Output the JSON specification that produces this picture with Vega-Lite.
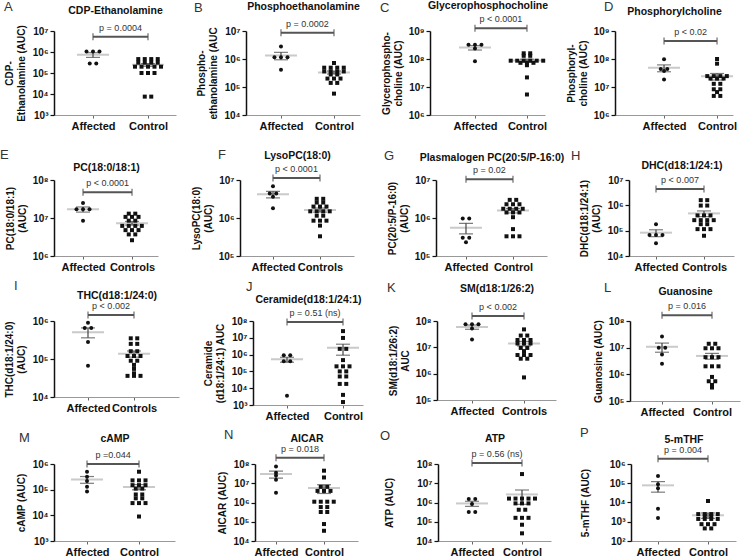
{
"$schema": "https://vega.github.io/schema/vega-lite/v6.json",
"padding": {"left": 0, "top": 0, "right": 3, "bottom": 0},
"config": {
 "font": "Liberation Sans",
 "view": {"stroke": null},
 "title": {"fontSize": 13, "fontWeight": "normal", "color": "#333", "frame": "group", "anchor": "start"},
 "axis": {"grid": false, "labelFontWeight": "bold", "labelColor": "#111", "titleFontWeight": "bold", "titleColor": "#111", "titleFontSize": 10, "labelFontSize": 10},
 "axisY": {"domainColor": "#111", "domainWidth": 1.5, "tickColor": "#111", "tickSize": 4, "tickWidth": 1.2, "titlePadding": 5, "labelPadding": 2},
 "axisX": {"domainColor": "#999", "domainWidth": 1, "tickColor": "#666", "tickSize": 3, "labelFontSize": 11, "labelPadding": 2},
 "axisTop": {"domain": false, "ticks": false, "labels": false, "titleFontSize": 10.5, "titleFontWeight": "bold", "titleColor": "#111"}
},
"datasets": {
"pv": [
{"panel":"A","p":"p = 0.0004"},{"panel":"B","p":"p = 0.0002"},{"panel":"C","p":"p < 0.0001"},{"panel":"D","p":"p < 0.02"},
{"panel":"E","p":"p < 0.0001"},{"panel":"F","p":"p < 0.0001"},{"panel":"G","p":"p = 0.02"},{"panel":"H","p":"p < 0.007"},
{"panel":"I","p":"p < 0.002"},{"panel":"J","p":"p = 0.51 (ns)"},{"panel":"K","p":"p < 0.002"},{"panel":"L","p":"p = 0.016"},
{"panel":"M","p":"p =0.044"},{"panel":"N","p":"p = 0.018"},{"panel":"O","p":"p = 0.56 (ns)"},{"panel":"P","p":"p = 0.004"}
],
"pts": [
{"panel":"A","group":"Affected","value":1050000},{"panel":"A","group":"Affected","value":1050000},{"panel":"A","group":"Affected","value":1050000},{"panel":"A","group":"Affected","value":280000},{"panel":"A","group":"Affected","value":280000},
{"panel":"A","group":"Control","value":460000},{"panel":"A","group":"Control","value":460000},{"panel":"A","group":"Control","value":460000},{"panel":"A","group":"Control","value":460000},
{"panel":"A","group":"Control","value":310000},{"panel":"A","group":"Control","value":310000},{"panel":"A","group":"Control","value":310000},{"panel":"A","group":"Control","value":310000},
{"panel":"A","group":"Control","value":200000},{"panel":"A","group":"Control","value":200000},{"panel":"A","group":"Control","value":200000},{"panel":"A","group":"Control","value":200000},{"panel":"A","group":"Control","value":200000},
{"panel":"A","group":"Control","value":100000},{"panel":"A","group":"Control","value":100000},{"panel":"A","group":"Control","value":100000},
{"panel":"A","group":"Control","value":7500},{"panel":"A","group":"Control","value":7500},
{"panel":"B","group":"Affected","value":2800000},{"panel":"B","group":"Affected","value":1150000},{"panel":"B","group":"Affected","value":1150000},{"panel":"B","group":"Affected","value":1150000},{"panel":"B","group":"Affected","value":410000},
{"panel":"B","group":"Control","value":720000},
{"panel":"B","group":"Control","value":490000},{"panel":"B","group":"Control","value":490000},{"panel":"B","group":"Control","value":490000},{"panel":"B","group":"Control","value":490000},
{"panel":"B","group":"Control","value":360000},{"panel":"B","group":"Control","value":360000},{"panel":"B","group":"Control","value":360000},{"panel":"B","group":"Control","value":360000},
{"panel":"B","group":"Control","value":280000},{"panel":"B","group":"Control","value":280000},
{"panel":"B","group":"Control","value":200000},{"panel":"B","group":"Control","value":200000},{"panel":"B","group":"Control","value":200000},
{"panel":"B","group":"Control","value":140000},{"panel":"B","group":"Control","value":140000},
{"panel":"B","group":"Control","value":58000},
{"panel":"C","group":"Affected","value":320000000},{"panel":"C","group":"Affected","value":320000000},{"panel":"C","group":"Affected","value":320000000},{"panel":"C","group":"Affected","value":235000000},{"panel":"C","group":"Affected","value":83000000},
{"panel":"C","group":"Control","value":160000000},{"panel":"C","group":"Control","value":160000000},
{"panel":"C","group":"Control","value":130000000},{"panel":"C","group":"Control","value":130000000},
{"panel":"C","group":"Control","value":87000000},{"panel":"C","group":"Control","value":87000000},{"panel":"C","group":"Control","value":87000000},{"panel":"C","group":"Control","value":87000000},{"panel":"C","group":"Control","value":87000000},{"panel":"C","group":"Control","value":87000000},
{"panel":"C","group":"Control","value":73000000},{"panel":"C","group":"Control","value":73000000},{"panel":"C","group":"Control","value":73000000},
{"panel":"C","group":"Control","value":60000000},{"panel":"C","group":"Control","value":22000000},{"panel":"C","group":"Control","value":5400000},
{"panel":"D","group":"Affected","value":98000000},{"panel":"D","group":"Affected","value":44000000},{"panel":"D","group":"Affected","value":44000000},{"panel":"D","group":"Affected","value":37000000},{"panel":"D","group":"Affected","value":18500000},
{"panel":"D","group":"Control","value":100000000},{"panel":"D","group":"Control","value":68000000},
{"panel":"D","group":"Control","value":24500000},{"panel":"D","group":"Control","value":24500000},{"panel":"D","group":"Control","value":24500000},{"panel":"D","group":"Control","value":24500000},
{"panel":"D","group":"Control","value":20000000},{"panel":"D","group":"Control","value":20000000},{"panel":"D","group":"Control","value":20000000},
{"panel":"D","group":"Control","value":13000000},{"panel":"D","group":"Control","value":13000000},
{"panel":"D","group":"Control","value":8300000},{"panel":"D","group":"Control","value":8300000},
{"panel":"D","group":"Control","value":6600000},
{"panel":"D","group":"Control","value":4800000},{"panel":"D","group":"Control","value":4800000},
{"panel":"E","group":"Affected","value":25000000},{"panel":"E","group":"Affected","value":17000000},{"panel":"E","group":"Affected","value":17000000},{"panel":"E","group":"Affected","value":17000000},{"panel":"E","group":"Affected","value":8500000},
{"panel":"E","group":"Control","value":13000000},{"panel":"E","group":"Control","value":13000000},
{"panel":"E","group":"Control","value":10700000},{"panel":"E","group":"Control","value":10700000},{"panel":"E","group":"Control","value":10700000},
{"panel":"E","group":"Control","value":8500000},{"panel":"E","group":"Control","value":8500000},
{"panel":"E","group":"Control","value":6200000},{"panel":"E","group":"Control","value":6200000},{"panel":"E","group":"Control","value":6200000},{"panel":"E","group":"Control","value":6200000},
{"panel":"E","group":"Control","value":4800000},{"panel":"E","group":"Control","value":4800000},{"panel":"E","group":"Control","value":4800000},
{"panel":"E","group":"Control","value":3700000},{"panel":"E","group":"Control","value":3700000},
{"panel":"E","group":"Control","value":2600000},
{"panel":"F","group":"Affected","value":6800000},{"panel":"F","group":"Affected","value":4400000},{"panel":"F","group":"Affected","value":4400000},{"panel":"F","group":"Affected","value":3600000},{"panel":"F","group":"Affected","value":1800000},
{"panel":"F","group":"Control","value":3200000},{"panel":"F","group":"Control","value":3200000},
{"panel":"F","group":"Control","value":2550000},{"panel":"F","group":"Control","value":2550000},
{"panel":"F","group":"Control","value":2000000},{"panel":"F","group":"Control","value":2000000},{"panel":"F","group":"Control","value":2000000},
{"panel":"F","group":"Control","value":1500000},{"panel":"F","group":"Control","value":1500000},{"panel":"F","group":"Control","value":1500000},{"panel":"F","group":"Control","value":1500000},
{"panel":"F","group":"Control","value":1150000},{"panel":"F","group":"Control","value":1150000},
{"panel":"F","group":"Control","value":850000},{"panel":"F","group":"Control","value":850000},{"panel":"F","group":"Control","value":850000},
{"panel":"F","group":"Control","value":630000},{"panel":"F","group":"Control","value":330000},
{"panel":"G","group":"Affected","value":970000},{"panel":"G","group":"Affected","value":970000},{"panel":"G","group":"Affected","value":300000},{"panel":"G","group":"Affected","value":300000},{"panel":"G","group":"Affected","value":230000},
{"panel":"G","group":"Control","value":3000000},{"panel":"G","group":"Control","value":3000000},
{"panel":"G","group":"Control","value":2300000},{"panel":"G","group":"Control","value":2300000},{"panel":"G","group":"Control","value":2300000},
{"panel":"G","group":"Control","value":1750000},{"panel":"G","group":"Control","value":1750000},{"panel":"G","group":"Control","value":1750000},{"panel":"G","group":"Control","value":1750000},
{"panel":"G","group":"Control","value":1400000},{"panel":"G","group":"Control","value":1400000},{"panel":"G","group":"Control","value":1400000},
{"panel":"G","group":"Control","value":1050000},{"panel":"G","group":"Control","value":510000},
{"panel":"G","group":"Control","value":330000},{"panel":"G","group":"Control","value":330000},{"panel":"G","group":"Control","value":330000},
{"panel":"H","group":"Affected","value":180000},{"panel":"H","group":"Affected","value":68000},{"panel":"H","group":"Affected","value":68000},{"panel":"H","group":"Affected","value":68000},{"panel":"H","group":"Affected","value":32000},
{"panel":"H","group":"Control","value":1600000},{"panel":"H","group":"Control","value":1600000},
{"panel":"H","group":"Control","value":980000},{"panel":"H","group":"Control","value":980000},
{"panel":"H","group":"Control","value":400000},{"panel":"H","group":"Control","value":400000},{"panel":"H","group":"Control","value":400000},
{"panel":"H","group":"Control","value":260000},{"panel":"H","group":"Control","value":260000},{"panel":"H","group":"Control","value":260000},{"panel":"H","group":"Control","value":260000},
{"panel":"H","group":"Control","value":180000},{"panel":"H","group":"Control","value":180000},
{"panel":"H","group":"Control","value":115000},{"panel":"H","group":"Control","value":115000},{"panel":"H","group":"Control","value":115000},
{"panel":"H","group":"Control","value":63000},
{"panel":"I","group":"Affected","value":900000},{"panel":"I","group":"Affected","value":650000},{"panel":"I","group":"Affected","value":650000},{"panel":"I","group":"Affected","value":280000},{"panel":"I","group":"Affected","value":66000},
{"panel":"I","group":"Control","value":350000},{"panel":"I","group":"Control","value":350000},
{"panel":"I","group":"Control","value":250000},{"panel":"I","group":"Control","value":250000},
{"panel":"I","group":"Control","value":160000},{"panel":"I","group":"Control","value":160000},
{"panel":"I","group":"Control","value":120000},{"panel":"I","group":"Control","value":120000},{"panel":"I","group":"Control","value":120000},
{"panel":"I","group":"Control","value":90000},{"panel":"I","group":"Control","value":90000},
{"panel":"I","group":"Control","value":70000},{"panel":"I","group":"Control","value":55000},{"panel":"I","group":"Control","value":42000},
{"panel":"I","group":"Control","value":36000},{"panel":"I","group":"Control","value":36000},{"panel":"I","group":"Control","value":36000},
{"panel":"J","group":"Affected","value":900000},{"panel":"J","group":"Affected","value":900000},{"panel":"J","group":"Affected","value":400000},{"panel":"J","group":"Affected","value":400000},{"panel":"J","group":"Affected","value":3500},
{"panel":"J","group":"Control","value":25000000},{"panel":"J","group":"Control","value":9800000},
{"panel":"J","group":"Control","value":2200000},{"panel":"J","group":"Control","value":2200000},
{"panel":"J","group":"Control","value":470000},
{"panel":"J","group":"Control","value":200000},{"panel":"J","group":"Control","value":200000},{"panel":"J","group":"Control","value":200000},
{"panel":"J","group":"Control","value":100000},{"panel":"J","group":"Control","value":100000},
{"panel":"J","group":"Control","value":50000},{"panel":"J","group":"Control","value":50000},
{"panel":"J","group":"Control","value":18000},{"panel":"J","group":"Control","value":18000},
{"panel":"J","group":"Control","value":4000},{"panel":"J","group":"Control","value":1500},
{"panel":"K","group":"Affected","value":75000000},{"panel":"K","group":"Affected","value":75000000},{"panel":"K","group":"Affected","value":75000000},{"panel":"K","group":"Affected","value":52000000},{"panel":"K","group":"Affected","value":20000000},
{"panel":"K","group":"Control","value":48000000},
{"panel":"K","group":"Control","value":28000000},{"panel":"K","group":"Control","value":28000000},
{"panel":"K","group":"Control","value":19000000},{"panel":"K","group":"Control","value":19000000},{"panel":"K","group":"Control","value":19000000},
{"panel":"K","group":"Control","value":14000000},{"panel":"K","group":"Control","value":14000000},{"panel":"K","group":"Control","value":14000000},
{"panel":"K","group":"Control","value":9500000},{"panel":"K","group":"Control","value":9500000},
{"panel":"K","group":"Control","value":7200000},
{"panel":"K","group":"Control","value":5100000},{"panel":"K","group":"Control","value":5100000},{"panel":"K","group":"Control","value":5100000},
{"panel":"K","group":"Control","value":3700000},{"panel":"K","group":"Control","value":3700000},
{"panel":"K","group":"Control","value":720000},
{"panel":"L","group":"Affected","value":26000000},{"panel":"L","group":"Affected","value":10000000},{"panel":"L","group":"Affected","value":10000000},{"panel":"L","group":"Affected","value":5500000},{"panel":"L","group":"Affected","value":2500000},
{"panel":"L","group":"Control","value":14000000},{"panel":"L","group":"Control","value":14000000},
{"panel":"L","group":"Control","value":9500000},{"panel":"L","group":"Control","value":9500000},{"panel":"L","group":"Control","value":9500000},
{"panel":"L","group":"Control","value":4400000},{"panel":"L","group":"Control","value":4400000},{"panel":"L","group":"Control","value":4400000},
{"panel":"L","group":"Control","value":2000000},{"panel":"L","group":"Control","value":2000000},{"panel":"L","group":"Control","value":2000000},
{"panel":"L","group":"Control","value":800000},
{"panel":"L","group":"Control","value":550000},{"panel":"L","group":"Control","value":550000},
{"panel":"L","group":"Control","value":400000},{"panel":"L","group":"Control","value":320000},
{"panel":"M","group":"Affected","value":500000},{"panel":"M","group":"Affected","value":320000},{"panel":"M","group":"Affected","value":220000},{"panel":"M","group":"Affected","value":130000},{"panel":"M","group":"Affected","value":85000},
{"panel":"M","group":"Control","value":500000},
{"panel":"M","group":"Control","value":230000},{"panel":"M","group":"Control","value":230000},{"panel":"M","group":"Control","value":230000},
{"panel":"M","group":"Control","value":150000},{"panel":"M","group":"Control","value":150000},{"panel":"M","group":"Control","value":150000},
{"panel":"M","group":"Control","value":110000},{"panel":"M","group":"Control","value":110000},
{"panel":"M","group":"Control","value":65000},{"panel":"M","group":"Control","value":65000},
{"panel":"M","group":"Control","value":46000},{"panel":"M","group":"Control","value":46000},
{"panel":"M","group":"Control","value":30000},{"panel":"M","group":"Control","value":30000},{"panel":"M","group":"Control","value":30000},
{"panel":"M","group":"Control","value":9000},
{"panel":"N","group":"Affected","value":75000000},{"panel":"N","group":"Affected","value":35000000},{"panel":"N","group":"Affected","value":25000000},{"panel":"N","group":"Affected","value":15000000},{"panel":"N","group":"Affected","value":3200000},
{"panel":"N","group":"Control","value":45000000},{"panel":"N","group":"Control","value":20000000},
{"panel":"N","group":"Control","value":6500000},{"panel":"N","group":"Control","value":6500000},
{"panel":"N","group":"Control","value":4000000},{"panel":"N","group":"Control","value":4000000},{"panel":"N","group":"Control","value":4000000},
{"panel":"N","group":"Control","value":1100000},{"panel":"N","group":"Control","value":1100000},{"panel":"N","group":"Control","value":1100000},{"panel":"N","group":"Control","value":1100000},
{"panel":"N","group":"Control","value":580000},{"panel":"N","group":"Control","value":580000},
{"panel":"N","group":"Control","value":320000},{"panel":"N","group":"Control","value":320000},
{"panel":"N","group":"Control","value":76000},{"panel":"N","group":"Control","value":34000},
{"panel":"O","group":"Affected","value":1500000},{"panel":"O","group":"Affected","value":1500000},{"panel":"O","group":"Affected","value":830000},{"panel":"O","group":"Affected","value":320000},{"panel":"O","group":"Affected","value":320000},
{"panel":"O","group":"Control","value":30000000},
{"panel":"O","group":"Control","value":1600000},{"panel":"O","group":"Control","value":1600000},{"panel":"O","group":"Control","value":1600000},{"panel":"O","group":"Control","value":1600000},{"panel":"O","group":"Control","value":1600000},
{"panel":"O","group":"Control","value":900000},{"panel":"O","group":"Control","value":900000},{"panel":"O","group":"Control","value":900000},
{"panel":"O","group":"Control","value":420000},{"panel":"O","group":"Control","value":420000},
{"panel":"O","group":"Control","value":160000},{"panel":"O","group":"Control","value":160000},{"panel":"O","group":"Control","value":160000},
{"panel":"O","group":"Control","value":70000},{"panel":"O","group":"Control","value":25000},
{"panel":"P","group":"Affected","value":240000},{"panel":"P","group":"Affected","value":89000},{"panel":"P","group":"Affected","value":55000},{"panel":"P","group":"Affected","value":4700},{"panel":"P","group":"Affected","value":1550},
{"panel":"P","group":"Control","value":12000},
{"panel":"P","group":"Control","value":2500},{"panel":"P","group":"Control","value":2500},{"panel":"P","group":"Control","value":2500},{"panel":"P","group":"Control","value":2500},
{"panel":"P","group":"Control","value":2000},{"panel":"P","group":"Control","value":2000},
{"panel":"P","group":"Control","value":1400},{"panel":"P","group":"Control","value":1400},{"panel":"P","group":"Control","value":1400},{"panel":"P","group":"Control","value":1400},
{"panel":"P","group":"Control","value":750},{"panel":"P","group":"Control","value":750},{"panel":"P","group":"Control","value":750},
{"panel":"P","group":"Control","value":450},{"panel":"P","group":"Control","value":450}
]
},
"spacing": 18,
"vconcat": [
{"spacing": 70, "bounds": "flush", "hconcat": [
{"width":122,"height":84,
 "title":{"text":"A","offset":-9,"dx":-50},
 "data":{"name":"pts"},
 "transform":[{"filter":"datum.panel === 'A'"},{"calculate":"datum.group === 'Affected' ? 1 : 2","as":"gi"}],
 "resolve":{"axis":{"x":"independent","y":"independent"}},
 "layer":[
  {"transform":[{"aggregate":[{"op":"mean","field":"value","as":"m"},{"op":"stderr","field":"value","as":"se"}],"groupby":["group","gi"]},{"calculate":"datum.m + datum.se","as":"hi"},{"calculate":"datum.m - datum.se","as":"lo"}],
   "encoding":{"x":{"field":"gi","type":"quantitative","scale":{"domain":[0.291,2.509],"nice":false,"zero":false},"axis":null}},
   "layer":[
    {"mark":{"type":"tick","orient":"horizontal","size":32,"thickness":2,"color":"#b3b3b3"},"encoding":{"y":{"field":"m","type":"quantitative","scale":{"type":"log","domain":[1000,10000000]},"axis":null}}},
    {"mark":{"type":"rule","color":"#444","strokeWidth":1.2},"encoding":{"y":{"field":"lo","type":"quantitative","scale":{"type":"log","domain":[1000,10000000]},"axis":null},"y2":{"field":"hi"}}},
    {"mark":{"type":"tick","orient":"horizontal","size":14,"thickness":1.2,"color":"#444"},"encoding":{"y":{"field":"hi","type":"quantitative","scale":{"type":"log","domain":[1000,10000000]},"axis":null}}},
    {"mark":{"type":"tick","orient":"horizontal","size":14,"thickness":1.2,"color":"#444"},"encoding":{"y":{"field":"lo","type":"quantitative","scale":{"type":"log","domain":[1000,10000000]},"axis":null}}}
   ]},
  {"transform":[{"window":[{"op":"row_number","as":"r"}],"groupby":["group","value"]},{"joinaggregate":[{"op":"count","as":"n"}],"groupby":["group","value"]},{"calculate":"datum.gi + (datum.r - (datum.n + 1) / 2) * 0.118","as":"xp"}],
   "mark":{"type":"point","filled":true,"opacity":1,"size":16,"color":"#111"},
   "encoding":{
    "x":{"field":"xp","type":"quantitative","scale":{"domain":[0.291,2.509],"nice":false,"zero":false},"axis":{"values":[1,2],"labelExpr":"datum.value === 1 ? 'Affected' : 'Control'","title":null}},
    "y":{"field":"value","type":"quantitative","scale":{"type":"log","domain":[1000,10000000]},"axis":{"values":[1000,10000,100000,1000000,10000000],"labelExpr":"'10' + ['⁰','¹','²','³','⁴','⁵','⁶','⁷','⁸','⁹'][round(log(datum.value) / LN10)]","title":["CDP-","Ethanolamine (AUC)"]}},
    "shape":{"field":"group","type":"nominal","scale":{"domain":["Affected","Control"],"range":["circle","square"]},"legend":null}}},
  {"data":{"name":"pv"},"transform":[{"filter":"datum.panel === 'A'"}],
   "encoding":{"y":{"datum":5370318,"type":"quantitative","scale":{"type":"log","domain":[1000,10000000]},"axis":null}},
   "layer":[
    {"mark":{"type":"rule","color":"#555","strokeWidth":2},"encoding":{"x":{"datum":1,"type":"quantitative","scale":{"domain":[0.291,2.509],"nice":false,"zero":false},"axis":{"orient":"top","title":"CDP-Ethanolamine","titlePadding":16}},"x2":{"datum":2}}},
    {"mark":{"type":"tick","orient":"vertical","size":7,"thickness":1.5,"color":"#555"},"encoding":{"x":{"datum":1,"type":"quantitative","scale":{"domain":[0.291,2.509],"nice":false,"zero":false}}}},
    {"mark":{"type":"tick","orient":"vertical","size":7,"thickness":1.5,"color":"#555"},"encoding":{"x":{"datum":2,"type":"quantitative","scale":{"domain":[0.291,2.509],"nice":false,"zero":false}}}},
    {"mark":{"type":"text","baseline":"bottom","dy":-4,"fontSize":9,"color":"#333"},"encoding":{"x":{"datum":1.5,"type":"quantitative","scale":{"domain":[0.291,2.509],"nice":false,"zero":false}},"text":{"field":"p"}}}
   ]}
 ]},
{"width":114,"height":84,
 "title":{"text":"B","offset":-14,"dx":-52},
 "data":{"name":"pts"},
 "transform":[{"filter":"datum.panel === 'B'"},{"calculate":"datum.group === 'Affected' ? 1 : 2","as":"gi"}],
 "resolve":{"axis":{"x":"independent","y":"independent"}},
 "layer":[
  {"transform":[{"aggregate":[{"op":"mean","field":"value","as":"m"},{"op":"stderr","field":"value","as":"se"}],"groupby":["group","gi"]},{"calculate":"datum.m + datum.se","as":"hi"},{"calculate":"datum.m - datum.se","as":"lo"}],
   "encoding":{"x":{"field":"gi","type":"quantitative","scale":{"domain":[0.34,2.491],"nice":false,"zero":false},"axis":null}},
   "layer":[
    {"mark":{"type":"tick","orient":"horizontal","size":32,"thickness":2,"color":"#b3b3b3"},"encoding":{"y":{"field":"m","type":"quantitative","scale":{"type":"log","domain":[10000,10000000]},"axis":null}}},
    {"mark":{"type":"rule","color":"#444","strokeWidth":1.2},"encoding":{"y":{"field":"lo","type":"quantitative","scale":{"type":"log","domain":[10000,10000000]},"axis":null},"y2":{"field":"hi"}}},
    {"mark":{"type":"tick","orient":"horizontal","size":14,"thickness":1.2,"color":"#444"},"encoding":{"y":{"field":"hi","type":"quantitative","scale":{"type":"log","domain":[10000,10000000]},"axis":null}}},
    {"mark":{"type":"tick","orient":"horizontal","size":14,"thickness":1.2,"color":"#444"},"encoding":{"y":{"field":"lo","type":"quantitative","scale":{"type":"log","domain":[10000,10000000]},"axis":null}}}
   ]},
  {"transform":[{"window":[{"op":"row_number","as":"r"}],"groupby":["group","value"]},{"joinaggregate":[{"op":"count","as":"n"}],"groupby":["group","value"]},{"calculate":"datum.gi + (datum.r - (datum.n + 1) / 2) * 0.123","as":"xp"}],
   "mark":{"type":"point","filled":true,"opacity":1,"size":16,"color":"#111"},
   "encoding":{
    "x":{"field":"xp","type":"quantitative","scale":{"domain":[0.34,2.491],"nice":false,"zero":false},"axis":{"values":[1,2],"labelExpr":"datum.value === 1 ? 'Affected' : 'Control'","title":null}},
    "y":{"field":"value","type":"quantitative","scale":{"type":"log","domain":[10000,10000000]},"axis":{"values":[10000,100000,1000000,10000000],"labelExpr":"'10' + ['⁰','¹','²','³','⁴','⁵','⁶','⁷','⁸','⁹'][round(log(datum.value) / LN10)]","title":["Phospho-","ethanolamine (AUC"]}},
    "shape":{"field":"group","type":"nominal","scale":{"domain":["Affected","Control"],"range":["circle","square"]},"legend":null}}},
  {"data":{"name":"pv"},"transform":[{"filter":"datum.panel === 'B'"}],
   "encoding":{"y":{"datum":8709636,"type":"quantitative","scale":{"type":"log","domain":[10000,10000000]},"axis":null}},
   "layer":[
    {"mark":{"type":"rule","color":"#555","strokeWidth":2},"encoding":{"x":{"datum":1,"type":"quantitative","scale":{"domain":[0.34,2.491],"nice":false,"zero":false},"axis":{"orient":"top","title":"Phosphoethanolamine","titlePadding":20}},"x2":{"datum":2}}},
    {"mark":{"type":"tick","orient":"vertical","size":7,"thickness":1.5,"color":"#555"},"encoding":{"x":{"datum":1,"type":"quantitative","scale":{"domain":[0.34,2.491],"nice":false,"zero":false}}}},
    {"mark":{"type":"tick","orient":"vertical","size":7,"thickness":1.5,"color":"#555"},"encoding":{"x":{"datum":2,"type":"quantitative","scale":{"domain":[0.34,2.491],"nice":false,"zero":false}}}},
    {"mark":{"type":"text","baseline":"bottom","dy":-4,"fontSize":9,"color":"#333"},"encoding":{"x":{"datum":1.5,"type":"quantitative","scale":{"domain":[0.34,2.491],"nice":false,"zero":false}},"text":{"field":"p"}}}
   ]}
 ]},
{"width":115,"height":84,
 "title":{"text":"C","offset":-15,"dx":-50},
 "data":{"name":"pts"},
 "transform":[{"filter":"datum.panel === 'C'"},{"calculate":"datum.group === 'Affected' ? 1 : 2","as":"gi"}],
 "resolve":{"axis":{"x":"independent","y":"independent"}},
 "layer":[
  {"transform":[{"aggregate":[{"op":"mean","field":"value","as":"m"},{"op":"stderr","field":"value","as":"se"}],"groupby":["group","gi"]},{"calculate":"datum.m + datum.se","as":"hi"},{"calculate":"datum.m - datum.se","as":"lo"}],
   "encoding":{"x":{"field":"gi","type":"quantitative","scale":{"domain":[0.135,2.347],"nice":false,"zero":false},"axis":null}},
   "layer":[
    {"mark":{"type":"tick","orient":"horizontal","size":32,"thickness":2,"color":"#b3b3b3"},"encoding":{"y":{"field":"m","type":"quantitative","scale":{"type":"log","domain":[1000000,1000000000]},"axis":null}}},
    {"mark":{"type":"rule","color":"#444","strokeWidth":1.2},"encoding":{"y":{"field":"lo","type":"quantitative","scale":{"type":"log","domain":[1000000,1000000000]},"axis":null},"y2":{"field":"hi"}}},
    {"mark":{"type":"tick","orient":"horizontal","size":14,"thickness":1.2,"color":"#444"},"encoding":{"y":{"field":"hi","type":"quantitative","scale":{"type":"log","domain":[1000000,1000000000]},"axis":null}}},
    {"mark":{"type":"tick","orient":"horizontal","size":14,"thickness":1.2,"color":"#444"},"encoding":{"y":{"field":"lo","type":"quantitative","scale":{"type":"log","domain":[1000000,1000000000]},"axis":null}}}
   ]},
  {"transform":[{"window":[{"op":"row_number","as":"r"}],"groupby":["group","value"]},{"joinaggregate":[{"op":"count","as":"n"}],"groupby":["group","value"]},{"calculate":"datum.gi + (datum.r - (datum.n + 1) / 2) * 0.125","as":"xp"}],
   "mark":{"type":"point","filled":true,"opacity":1,"size":16,"color":"#111"},
   "encoding":{
    "x":{"field":"xp","type":"quantitative","scale":{"domain":[0.135,2.347],"nice":false,"zero":false},"axis":{"values":[1,2],"labelExpr":"datum.value === 1 ? 'Affected' : 'Control'","title":null}},
    "y":{"field":"value","type":"quantitative","scale":{"type":"log","domain":[1000000,1000000000]},"axis":{"values":[1000000,10000000,100000000,1000000000],"labelExpr":"'10' + ['⁰','¹','²','³','⁴','⁵','⁶','⁷','⁸','⁹'][round(log(datum.value) / LN10)]","title":["Glycerophospho-","choline (AUC)"]}},
    "shape":{"field":"group","type":"nominal","scale":{"domain":["Affected","Control"],"range":["circle","square"]},"legend":null}}},
  {"data":{"name":"pv"},"transform":[{"filter":"datum.panel === 'C'"}],
   "encoding":{"y":{"datum":1258925412,"type":"quantitative","scale":{"type":"log","domain":[1000000,1000000000]},"axis":null}},
   "layer":[
    {"mark":{"type":"rule","color":"#555","strokeWidth":2},"encoding":{"x":{"datum":1,"type":"quantitative","scale":{"domain":[0.135,2.347],"nice":false,"zero":false},"axis":{"orient":"top","title":"Glycerophosphocholine","titlePadding":21}},"x2":{"datum":2}}},
    {"mark":{"type":"tick","orient":"vertical","size":7,"thickness":1.5,"color":"#555"},"encoding":{"x":{"datum":1,"type":"quantitative","scale":{"domain":[0.135,2.347],"nice":false,"zero":false}}}},
    {"mark":{"type":"tick","orient":"vertical","size":7,"thickness":1.5,"color":"#555"},"encoding":{"x":{"datum":2,"type":"quantitative","scale":{"domain":[0.135,2.347],"nice":false,"zero":false}}}},
    {"mark":{"type":"text","baseline":"bottom","dy":-4,"fontSize":9,"color":"#333"},"encoding":{"x":{"datum":1.5,"type":"quantitative","scale":{"domain":[0.135,2.347],"nice":false,"zero":false}},"text":{"field":"p"}}}
   ]}
 ]},
{"width":118,"height":84,
 "title":{"text":"D","offset":-8,"dx":-11},
 "data":{"name":"pts"},
 "transform":[{"filter":"datum.panel === 'D'"},{"calculate":"datum.group === 'Affected' ? 1 : 2","as":"gi"}],
 "resolve":{"axis":{"x":"independent","y":"independent"}},
 "layer":[
  {"transform":[{"aggregate":[{"op":"mean","field":"value","as":"m"},{"op":"stderr","field":"value","as":"se"}],"groupby":["group","gi"]},{"calculate":"datum.m + datum.se","as":"hi"},{"calculate":"datum.m - datum.se","as":"lo"}],
   "encoding":{"x":{"field":"gi","type":"quantitative","scale":{"domain":[0.075,2.301],"nice":false,"zero":false},"axis":null}},
   "layer":[
    {"mark":{"type":"tick","orient":"horizontal","size":32,"thickness":2,"color":"#b3b3b3"},"encoding":{"y":{"field":"m","type":"quantitative","scale":{"type":"log","domain":[1000000,1000000000]},"axis":null}}},
    {"mark":{"type":"rule","color":"#444","strokeWidth":1.2},"encoding":{"y":{"field":"lo","type":"quantitative","scale":{"type":"log","domain":[1000000,1000000000]},"axis":null},"y2":{"field":"hi"}}},
    {"mark":{"type":"tick","orient":"horizontal","size":14,"thickness":1.2,"color":"#444"},"encoding":{"y":{"field":"hi","type":"quantitative","scale":{"type":"log","domain":[1000000,1000000000]},"axis":null}}},
    {"mark":{"type":"tick","orient":"horizontal","size":14,"thickness":1.2,"color":"#444"},"encoding":{"y":{"field":"lo","type":"quantitative","scale":{"type":"log","domain":[1000000,1000000000]},"axis":null}}}
   ]},
  {"transform":[{"window":[{"op":"row_number","as":"r"}],"groupby":["group","value"]},{"joinaggregate":[{"op":"count","as":"n"}],"groupby":["group","value"]},{"calculate":"datum.gi + (datum.r - (datum.n + 1) / 2) * 0.123","as":"xp"}],
   "mark":{"type":"point","filled":true,"opacity":1,"size":16,"color":"#111"},
   "encoding":{
    "x":{"field":"xp","type":"quantitative","scale":{"domain":[0.075,2.301],"nice":false,"zero":false},"axis":{"values":[1,2],"labelExpr":"datum.value === 1 ? 'Affected' : 'Control'","title":null}},
    "y":{"field":"value","type":"quantitative","scale":{"type":"log","domain":[1000000,1000000000]},"axis":{"values":[1000000,10000000,100000000,1000000000],"labelExpr":"'10' + ['⁰','¹','²','³','⁴','⁵','⁶','⁷','⁸','⁹'][round(log(datum.value) / LN10)]","title":["Phosphoryl-","choline (AUC)"]}},
    "shape":{"field":"group","type":"nominal","scale":{"domain":["Affected","Control"],"range":["circle","square"]},"legend":null}}},
  {"data":{"name":"pv"},"transform":[{"filter":"datum.panel === 'D'"}],
   "encoding":{"y":{"datum":436515832,"type":"quantitative","scale":{"type":"log","domain":[1000000,1000000000]},"axis":null}},
   "layer":[
    {"mark":{"type":"rule","color":"#555","strokeWidth":2},"encoding":{"x":{"datum":1,"type":"quantitative","scale":{"domain":[0.075,2.301],"nice":false,"zero":false},"axis":{"orient":"top","title":"Phosphorylcholine","titlePadding":15}},"x2":{"datum":2}}},
    {"mark":{"type":"tick","orient":"vertical","size":7,"thickness":1.5,"color":"#555"},"encoding":{"x":{"datum":1,"type":"quantitative","scale":{"domain":[0.075,2.301],"nice":false,"zero":false}}}},
    {"mark":{"type":"tick","orient":"vertical","size":7,"thickness":1.5,"color":"#555"},"encoding":{"x":{"datum":2,"type":"quantitative","scale":{"domain":[0.075,2.301],"nice":false,"zero":false}}}},
    {"mark":{"type":"text","baseline":"bottom","dy":-4,"fontSize":9,"color":"#333"},"encoding":{"x":{"datum":1.5,"type":"quantitative","scale":{"domain":[0.075,2.301],"nice":false,"zero":false}},"text":{"field":"p"}}}
   ]}
 ]}
]},
{"spacing": 8, "vconcat": [
{"spacing": 82, "bounds": "flush", "hconcat": [
{"width":104,"height":76,
 "title":{"text":"E","offset":0,"dx":-54},
 "data":{"name":"pts"},
 "transform":[{"filter":"datum.panel === 'E'"},{"calculate":"datum.group === 'Affected' ? 1 : 2","as":"gi"}],
 "resolve":{"axis":{"x":"independent","y":"independent"}},
 "layer":[
  {"transform":[{"aggregate":[{"op":"mean","field":"value","as":"m"},{"op":"stderr","field":"value","as":"se"}],"groupby":["group","gi"]},{"calculate":"datum.m + datum.se","as":"hi"},{"calculate":"datum.m - datum.se","as":"lo"}],
   "encoding":{"x":{"field":"gi","type":"quantitative","scale":{"domain":[0.408,2.53],"nice":false,"zero":false},"axis":null}},
   "layer":[
    {"mark":{"type":"tick","orient":"horizontal","size":32,"thickness":2,"color":"#b3b3b3"},"encoding":{"y":{"field":"m","type":"quantitative","scale":{"type":"log","domain":[1000000,100000000]},"axis":null}}},
    {"mark":{"type":"rule","color":"#444","strokeWidth":1.2},"encoding":{"y":{"field":"lo","type":"quantitative","scale":{"type":"log","domain":[1000000,100000000]},"axis":null},"y2":{"field":"hi"}}},
    {"mark":{"type":"tick","orient":"horizontal","size":14,"thickness":1.2,"color":"#444"},"encoding":{"y":{"field":"hi","type":"quantitative","scale":{"type":"log","domain":[1000000,100000000]},"axis":null}}},
    {"mark":{"type":"tick","orient":"horizontal","size":14,"thickness":1.2,"color":"#444"},"encoding":{"y":{"field":"lo","type":"quantitative","scale":{"type":"log","domain":[1000000,100000000]},"axis":null}}}
   ]},
  {"transform":[{"window":[{"op":"row_number","as":"r"}],"groupby":["group","value"]},{"joinaggregate":[{"op":"count","as":"n"}],"groupby":["group","value"]},{"calculate":"datum.gi + (datum.r - (datum.n + 1) / 2) * 0.133","as":"xp"}],
   "mark":{"type":"point","filled":true,"opacity":1,"size":16,"color":"#111"},
   "encoding":{
    "x":{"field":"xp","type":"quantitative","scale":{"domain":[0.408,2.53],"nice":false,"zero":false},"axis":{"values":[1,2],"labelExpr":"datum.value === 1 ? 'Affected' : 'Controls'","title":null}},
    "y":{"field":"value","type":"quantitative","scale":{"type":"log","domain":[1000000,100000000]},"axis":{"values":[1000000,10000000,100000000],"labelExpr":"'10' + ['⁰','¹','²','³','⁴','⁵','⁶','⁷','⁸','⁹'][round(log(datum.value) / LN10)]","title":["PC(18:0/18:1)","(AUC)"]}},
    "shape":{"field":"group","type":"nominal","scale":{"domain":["Affected","Control"],"range":["circle","square"]},"legend":null}}},
  {"data":{"name":"pv"},"transform":[{"filter":"datum.panel === 'E'"}],
   "encoding":{"y":{"datum":47863009,"type":"quantitative","scale":{"type":"log","domain":[1000000,100000000]},"axis":null}},
   "layer":[
    {"mark":{"type":"rule","color":"#555","strokeWidth":2},"encoding":{"x":{"datum":1,"type":"quantitative","scale":{"domain":[0.408,2.53],"nice":false,"zero":false},"axis":{"orient":"top","title":"PC(18:0/18:1)","titlePadding":8}},"x2":{"datum":2}}},
    {"mark":{"type":"tick","orient":"vertical","size":7,"thickness":1.5,"color":"#555"},"encoding":{"x":{"datum":1,"type":"quantitative","scale":{"domain":[0.408,2.53],"nice":false,"zero":false}}}},
    {"mark":{"type":"tick","orient":"vertical","size":7,"thickness":1.5,"color":"#555"},"encoding":{"x":{"datum":2,"type":"quantitative","scale":{"domain":[0.408,2.53],"nice":false,"zero":false}}}},
    {"mark":{"type":"text","baseline":"bottom","dy":-4,"fontSize":9,"color":"#333"},"encoding":{"x":{"datum":1.5,"type":"quantitative","scale":{"domain":[0.408,2.53],"nice":false,"zero":false}},"text":{"field":"p"}}}
   ]}
 ]},
{"width":114,"height":76,
 "title":{"text":"F","offset":-12,"dx":-22},
 "data":{"name":"pts"},
 "transform":[{"filter":"datum.panel === 'F'"},{"calculate":"datum.group === 'Affected' ? 1 : 2","as":"gi"}],
 "resolve":{"axis":{"x":"independent","y":"independent"}},
 "layer":[
  {"transform":[{"aggregate":[{"op":"mean","field":"value","as":"m"},{"op":"stderr","field":"value","as":"se"}],"groupby":["group","gi"]},{"calculate":"datum.m + datum.se","as":"hi"},{"calculate":"datum.m - datum.se","as":"lo"}],
   "encoding":{"x":{"field":"gi","type":"quantitative","scale":{"domain":[0.298,2.724],"nice":false,"zero":false},"axis":null}},
   "layer":[
    {"mark":{"type":"tick","orient":"horizontal","size":32,"thickness":2,"color":"#b3b3b3"},"encoding":{"y":{"field":"m","type":"quantitative","scale":{"type":"log","domain":[100000,10000000]},"axis":null}}},
    {"mark":{"type":"rule","color":"#444","strokeWidth":1.2},"encoding":{"y":{"field":"lo","type":"quantitative","scale":{"type":"log","domain":[100000,10000000]},"axis":null},"y2":{"field":"hi"}}},
    {"mark":{"type":"tick","orient":"horizontal","size":14,"thickness":1.2,"color":"#444"},"encoding":{"y":{"field":"hi","type":"quantitative","scale":{"type":"log","domain":[100000,10000000]},"axis":null}}},
    {"mark":{"type":"tick","orient":"horizontal","size":14,"thickness":1.2,"color":"#444"},"encoding":{"y":{"field":"lo","type":"quantitative","scale":{"type":"log","domain":[100000,10000000]},"axis":null}}}
   ]},
  {"transform":[{"window":[{"op":"row_number","as":"r"}],"groupby":["group","value"]},{"joinaggregate":[{"op":"count","as":"n"}],"groupby":["group","value"]},{"calculate":"datum.gi + (datum.r - (datum.n + 1) / 2) * 0.138","as":"xp"}],
   "mark":{"type":"point","filled":true,"opacity":1,"size":16,"color":"#111"},
   "encoding":{
    "x":{"field":"xp","type":"quantitative","scale":{"domain":[0.298,2.724],"nice":false,"zero":false},"axis":{"values":[1,2],"labelExpr":"datum.value === 1 ? 'Affected' : 'Controls'","title":null}},
    "y":{"field":"value","type":"quantitative","scale":{"type":"log","domain":[100000,10000000]},"axis":{"values":[100000,1000000,10000000],"labelExpr":"'10' + ['⁰','¹','²','³','⁴','⁵','⁶','⁷','⁸','⁹'][round(log(datum.value) / LN10)]","title":["LysoPC(18:0)","(AUC)"]}},
    "shape":{"field":"group","type":"nominal","scale":{"domain":["Affected","Control"],"range":["circle","square"]},"legend":null}}},
  {"data":{"name":"pv"},"transform":[{"filter":"datum.panel === 'F'"}],
   "encoding":{"y":{"datum":11220185,"type":"quantitative","scale":{"type":"log","domain":[100000,10000000]},"axis":null}},
   "layer":[
    {"mark":{"type":"rule","color":"#555","strokeWidth":2},"encoding":{"x":{"datum":1,"type":"quantitative","scale":{"domain":[0.298,2.724],"nice":false,"zero":false},"axis":{"orient":"top","title":"LysoPC(18:0)","titlePadding":20}},"x2":{"datum":2}}},
    {"mark":{"type":"tick","orient":"vertical","size":7,"thickness":1.5,"color":"#555"},"encoding":{"x":{"datum":1,"type":"quantitative","scale":{"domain":[0.298,2.724],"nice":false,"zero":false}}}},
    {"mark":{"type":"tick","orient":"vertical","size":7,"thickness":1.5,"color":"#555"},"encoding":{"x":{"datum":2,"type":"quantitative","scale":{"domain":[0.298,2.724],"nice":false,"zero":false}}}},
    {"mark":{"type":"text","baseline":"bottom","dy":-4,"fontSize":9,"color":"#333"},"encoding":{"x":{"datum":1.5,"type":"quantitative","scale":{"domain":[0.298,2.724],"nice":false,"zero":false}},"text":{"field":"p"}}}
   ]}
 ]},
{"width":111,"height":76,
 "title":{"text":"G","offset":-11,"dx":-52},
 "data":{"name":"pts"},
 "transform":[{"filter":"datum.panel === 'G'"},{"calculate":"datum.group === 'Affected' ? 1 : 2","as":"gi"}],
 "resolve":{"axis":{"x":"independent","y":"independent"}},
 "layer":[
  {"transform":[{"aggregate":[{"op":"mean","field":"value","as":"m"},{"op":"stderr","field":"value","as":"se"}],"groupby":["group","gi"]},{"calculate":"datum.m + datum.se","as":"hi"},{"calculate":"datum.m - datum.se","as":"lo"}],
   "encoding":{"x":{"field":"gi","type":"quantitative","scale":{"domain":[0.362,2.724],"nice":false,"zero":false},"axis":null}},
   "layer":[
    {"mark":{"type":"tick","orient":"horizontal","size":32,"thickness":2,"color":"#b3b3b3"},"encoding":{"y":{"field":"m","type":"quantitative","scale":{"type":"log","domain":[100000,10000000]},"axis":null}}},
    {"mark":{"type":"rule","color":"#444","strokeWidth":1.2},"encoding":{"y":{"field":"lo","type":"quantitative","scale":{"type":"log","domain":[100000,10000000]},"axis":null},"y2":{"field":"hi"}}},
    {"mark":{"type":"tick","orient":"horizontal","size":14,"thickness":1.2,"color":"#444"},"encoding":{"y":{"field":"hi","type":"quantitative","scale":{"type":"log","domain":[100000,10000000]},"axis":null}}},
    {"mark":{"type":"tick","orient":"horizontal","size":14,"thickness":1.2,"color":"#444"},"encoding":{"y":{"field":"lo","type":"quantitative","scale":{"type":"log","domain":[100000,10000000]},"axis":null}}}
   ]},
  {"transform":[{"window":[{"op":"row_number","as":"r"}],"groupby":["group","value"]},{"joinaggregate":[{"op":"count","as":"n"}],"groupby":["group","value"]},{"calculate":"datum.gi + (datum.r - (datum.n + 1) / 2) * 0.138","as":"xp"}],
   "mark":{"type":"point","filled":true,"opacity":1,"size":16,"color":"#111"},
   "encoding":{
    "x":{"field":"xp","type":"quantitative","scale":{"domain":[0.362,2.724],"nice":false,"zero":false},"axis":{"values":[1,2],"labelExpr":"datum.value === 1 ? 'Affected' : 'Control'","title":null}},
    "y":{"field":"value","type":"quantitative","scale":{"type":"log","domain":[100000,10000000]},"axis":{"values":[100000,1000000,10000000],"labelExpr":"'10' + ['⁰','¹','²','³','⁴','⁵','⁶','⁷','⁸','⁹'][round(log(datum.value) / LN10)]","title":["PC(20:5/P-16:0)","(AUC)"]}},
    "shape":{"field":"group","type":"nominal","scale":{"domain":["Affected","Control"],"range":["circle","square"]},"legend":null}}},
  {"data":{"name":"pv"},"transform":[{"filter":"datum.panel === 'G'"}],
   "encoding":{"y":{"datum":10471285,"type":"quantitative","scale":{"type":"log","domain":[100000,10000000]},"axis":null}},
   "layer":[
    {"mark":{"type":"rule","color":"#555","strokeWidth":2},"encoding":{"x":{"datum":1,"type":"quantitative","scale":{"domain":[0.362,2.724],"nice":false,"zero":false},"axis":{"orient":"top","title":"Plasmalogen PC(20:5/P-16:0)","titlePadding":18}},"x2":{"datum":2}}},
    {"mark":{"type":"tick","orient":"vertical","size":7,"thickness":1.5,"color":"#555"},"encoding":{"x":{"datum":1,"type":"quantitative","scale":{"domain":[0.362,2.724],"nice":false,"zero":false}}}},
    {"mark":{"type":"tick","orient":"vertical","size":7,"thickness":1.5,"color":"#555"},"encoding":{"x":{"datum":2,"type":"quantitative","scale":{"domain":[0.362,2.724],"nice":false,"zero":false}}}},
    {"mark":{"type":"text","baseline":"bottom","dy":-4,"fontSize":9,"color":"#333"},"encoding":{"x":{"datum":1.5,"type":"quantitative","scale":{"domain":[0.362,2.724],"nice":false,"zero":false}},"text":{"field":"p"}}}
   ]}
 ]},
{"width":105,"height":76,
 "title":{"text":"H","offset":-3,"dx":-58},
 "data":{"name":"pts"},
 "transform":[{"filter":"datum.panel === 'H'"},{"calculate":"datum.group === 'Affected' ? 1 : 2","as":"gi"}],
 "resolve":{"axis":{"x":"independent","y":"independent"}},
 "layer":[
  {"transform":[{"aggregate":[{"op":"mean","field":"value","as":"m"},{"op":"stderr","field":"value","as":"se"}],"groupby":["group","gi"]},{"calculate":"datum.m + datum.se","as":"hi"},{"calculate":"datum.m - datum.se","as":"lo"}],
   "encoding":{"x":{"field":"gi","type":"quantitative","scale":{"domain":[0.4375,2.625],"nice":false,"zero":false},"axis":null}},
   "layer":[
    {"mark":{"type":"tick","orient":"horizontal","size":32,"thickness":2,"color":"#b3b3b3"},"encoding":{"y":{"field":"m","type":"quantitative","scale":{"type":"log","domain":[10000,10000000]},"axis":null}}},
    {"mark":{"type":"rule","color":"#444","strokeWidth":1.2},"encoding":{"y":{"field":"lo","type":"quantitative","scale":{"type":"log","domain":[10000,10000000]},"axis":null},"y2":{"field":"hi"}}},
    {"mark":{"type":"tick","orient":"horizontal","size":14,"thickness":1.2,"color":"#444"},"encoding":{"y":{"field":"hi","type":"quantitative","scale":{"type":"log","domain":[10000,10000000]},"axis":null}}},
    {"mark":{"type":"tick","orient":"horizontal","size":14,"thickness":1.2,"color":"#444"},"encoding":{"y":{"field":"lo","type":"quantitative","scale":{"type":"log","domain":[10000,10000000]},"axis":null}}}
   ]},
  {"transform":[{"window":[{"op":"row_number","as":"r"}],"groupby":["group","value"]},{"joinaggregate":[{"op":"count","as":"n"}],"groupby":["group","value"]},{"calculate":"datum.gi + (datum.r - (datum.n + 1) / 2) * 0.135","as":"xp"}],
   "mark":{"type":"point","filled":true,"opacity":1,"size":16,"color":"#111"},
   "encoding":{
    "x":{"field":"xp","type":"quantitative","scale":{"domain":[0.4375,2.625],"nice":false,"zero":false},"axis":{"values":[1,2],"labelExpr":"datum.value === 1 ? 'Affected' : 'Controls'","title":null}},
    "y":{"field":"value","type":"quantitative","scale":{"type":"log","domain":[10000,10000000]},"axis":{"values":[10000,100000,1000000,10000000],"labelExpr":"'10' + ['⁰','¹','²','³','⁴','⁵','⁶','⁷','⁸','⁹'][round(log(datum.value) / LN10)]","title":["DHC(d18:1/24:1)","(AUC)"]}},
    "shape":{"field":"group","type":"nominal","scale":{"domain":["Affected","Control"],"range":["circle","square"]},"legend":null}}},
  {"data":{"name":"pv"},"transform":[{"filter":"datum.panel === 'H'"}],
   "encoding":{"y":{"datum":4365158,"type":"quantitative","scale":{"type":"log","domain":[10000,10000000]},"axis":null}},
   "layer":[
    {"mark":{"type":"rule","color":"#555","strokeWidth":2},"encoding":{"x":{"datum":1,"type":"quantitative","scale":{"domain":[0.4375,2.625],"nice":false,"zero":false},"axis":{"orient":"top","title":"DHC(d18:1/24:1)","titlePadding":10}},"x2":{"datum":2}}},
    {"mark":{"type":"tick","orient":"vertical","size":7,"thickness":1.5,"color":"#555"},"encoding":{"x":{"datum":1,"type":"quantitative","scale":{"domain":[0.4375,2.625],"nice":false,"zero":false}}}},
    {"mark":{"type":"tick","orient":"vertical","size":7,"thickness":1.5,"color":"#555"},"encoding":{"x":{"datum":2,"type":"quantitative","scale":{"domain":[0.4375,2.625],"nice":false,"zero":false}}}},
    {"mark":{"type":"text","baseline":"bottom","dy":-4,"fontSize":9,"color":"#333"},"encoding":{"x":{"datum":1.5,"type":"quantitative","scale":{"domain":[0.4375,2.625],"nice":false,"zero":false}},"text":{"field":"p"}}}
   ]}
 ]}
]},
{"spacing": 6, "vconcat": [
{"spacing": 74, "bounds": "flush", "hconcat": [
{"width":125,"height":76,
 "title":{"text":"I","offset":-3,"dx":-40},
 "data":{"name":"pts"},
 "transform":[{"filter":"datum.panel === 'I'"},{"calculate":"datum.group === 'Affected' ? 1 : 2","as":"gi"}],
 "resolve":{"axis":{"x":"independent","y":"independent"}},
 "layer":[
  {"transform":[{"aggregate":[{"op":"mean","field":"value","as":"m"},{"op":"stderr","field":"value","as":"se"}],"groupby":["group","gi"]},{"calculate":"datum.m + datum.se","as":"hi"},{"calculate":"datum.m - datum.se","as":"lo"}],
   "encoding":{"x":{"field":"gi","type":"quantitative","scale":{"domain":[0.261,2.978],"nice":false,"zero":false},"axis":null}},
   "layer":[
    {"mark":{"type":"tick","orient":"horizontal","size":32,"thickness":2,"color":"#b3b3b3"},"encoding":{"y":{"field":"m","type":"quantitative","scale":{"type":"log","domain":[10000,1000000]},"axis":null}}},
    {"mark":{"type":"rule","color":"#444","strokeWidth":1.2},"encoding":{"y":{"field":"lo","type":"quantitative","scale":{"type":"log","domain":[10000,1000000]},"axis":null},"y2":{"field":"hi"}}},
    {"mark":{"type":"tick","orient":"horizontal","size":14,"thickness":1.2,"color":"#444"},"encoding":{"y":{"field":"hi","type":"quantitative","scale":{"type":"log","domain":[10000,1000000]},"axis":null}}},
    {"mark":{"type":"tick","orient":"horizontal","size":14,"thickness":1.2,"color":"#444"},"encoding":{"y":{"field":"lo","type":"quantitative","scale":{"type":"log","domain":[10000,1000000]},"axis":null}}}
   ]},
  {"transform":[{"window":[{"op":"row_number","as":"r"}],"groupby":["group","value"]},{"joinaggregate":[{"op":"count","as":"n"}],"groupby":["group","value"]},{"calculate":"datum.gi + (datum.r - (datum.n + 1) / 2) * 0.141","as":"xp"}],
   "mark":{"type":"point","filled":true,"opacity":1,"size":16,"color":"#111"},
   "encoding":{
    "x":{"field":"xp","type":"quantitative","scale":{"domain":[0.261,2.978],"nice":false,"zero":false},"axis":{"values":[1,2],"labelExpr":"datum.value === 1 ? 'Affected' : 'Controls'","title":null}},
    "y":{"field":"value","type":"quantitative","scale":{"type":"log","domain":[10000,1000000]},"axis":{"values":[10000,100000,1000000],"labelExpr":"'10' + ['⁰','¹','²','³','⁴','⁵','⁶','⁷','⁸','⁹'][round(log(datum.value) / LN10)]","title":["THC(d18:1/24:0)","(AUC)"]}},
    "shape":{"field":"group","type":"nominal","scale":{"domain":["Affected","Control"],"range":["circle","square"]},"legend":null}}},
  {"data":{"name":"pv"},"transform":[{"filter":"datum.panel === 'I'"}],
   "encoding":{"y":{"datum":1445440,"type":"quantitative","scale":{"type":"log","domain":[10000,1000000]},"axis":null}},
   "layer":[
    {"mark":{"type":"rule","color":"#555","strokeWidth":2},"encoding":{"x":{"datum":1,"type":"quantitative","scale":{"domain":[0.261,2.978],"nice":false,"zero":false},"axis":{"orient":"top","title":"THC(d18:1/24:0)","titlePadding":21}},"x2":{"datum":2}}},
    {"mark":{"type":"tick","orient":"vertical","size":7,"thickness":1.5,"color":"#555"},"encoding":{"x":{"datum":1,"type":"quantitative","scale":{"domain":[0.261,2.978],"nice":false,"zero":false}}}},
    {"mark":{"type":"tick","orient":"vertical","size":7,"thickness":1.5,"color":"#555"},"encoding":{"x":{"datum":2,"type":"quantitative","scale":{"domain":[0.261,2.978],"nice":false,"zero":false}}}},
    {"mark":{"type":"text","baseline":"bottom","dy":-4,"fontSize":9,"color":"#333"},"encoding":{"x":{"datum":1.5,"type":"quantitative","scale":{"domain":[0.261,2.978],"nice":false,"zero":false}},"text":{"field":"p"}}}
   ]}
 ]},
{"width":110,"height":84,
 "title":{"text":"J","offset":0,"dx":-7},
 "data":{"name":"pts"},
 "transform":[{"filter":"datum.panel === 'J'"},{"calculate":"datum.group === 'Affected' ? 1 : 2","as":"gi"}],
 "resolve":{"axis":{"x":"independent","y":"independent"}},
 "layer":[
  {"transform":[{"aggregate":[{"op":"mean","field":"value","as":"m"},{"op":"stderr","field":"value","as":"se"}],"groupby":["group","gi"]},{"calculate":"datum.m + datum.se","as":"hi"},{"calculate":"datum.m - datum.se","as":"lo"}],
   "encoding":{"x":{"field":"gi","type":"quantitative","scale":{"domain":[0.393,2.357],"nice":false,"zero":false},"axis":null}},
   "layer":[
    {"mark":{"type":"tick","orient":"horizontal","size":32,"thickness":2,"color":"#b3b3b3"},"encoding":{"y":{"field":"m","type":"quantitative","scale":{"type":"log","domain":[1000,100000000]},"axis":null}}},
    {"mark":{"type":"rule","color":"#444","strokeWidth":1.2},"encoding":{"y":{"field":"lo","type":"quantitative","scale":{"type":"log","domain":[1000,100000000]},"axis":null},"y2":{"field":"hi"}}},
    {"mark":{"type":"tick","orient":"horizontal","size":14,"thickness":1.2,"color":"#444"},"encoding":{"y":{"field":"hi","type":"quantitative","scale":{"type":"log","domain":[1000,100000000]},"axis":null}}},
    {"mark":{"type":"tick","orient":"horizontal","size":14,"thickness":1.2,"color":"#444"},"encoding":{"y":{"field":"lo","type":"quantitative","scale":{"type":"log","domain":[1000,100000000]},"axis":null}}}
   ]},
  {"transform":[{"window":[{"op":"row_number","as":"r"}],"groupby":["group","value"]},{"joinaggregate":[{"op":"count","as":"n"}],"groupby":["group","value"]},{"calculate":"datum.gi + (datum.r - (datum.n + 1) / 2) * 0.116","as":"xp"}],
   "mark":{"type":"point","filled":true,"opacity":1,"size":16,"color":"#111"},
   "encoding":{
    "x":{"field":"xp","type":"quantitative","scale":{"domain":[0.393,2.357],"nice":false,"zero":false},"axis":{"values":[1,2],"labelExpr":"datum.value === 1 ? 'Affected' : 'Control'","title":null}},
    "y":{"field":"value","type":"quantitative","scale":{"type":"log","domain":[1000,100000000]},"axis":{"values":[1000,10000,100000,1000000,10000000,100000000],"labelExpr":"'10' + ['⁰','¹','²','³','⁴','⁵','⁶','⁷','⁸','⁹'][round(log(datum.value) / LN10)]","title":["Ceramide","(d18:1/24:1) AUC"]}},
    "shape":{"field":"group","type":"nominal","scale":{"domain":["Affected","Control"],"range":["circle","square"]},"legend":null}}},
  {"data":{"name":"pv"},"transform":[{"filter":"datum.panel === 'J'"}],
   "encoding":{"y":{"datum":87096359,"type":"quantitative","scale":{"type":"log","domain":[1000,100000000]},"axis":null}},
   "layer":[
    {"mark":{"type":"rule","color":"#555","strokeWidth":2},"encoding":{"x":{"datum":1,"type":"quantitative","scale":{"domain":[0.393,2.357],"nice":false,"zero":false},"axis":{"orient":"top","title":"Ceramide(d18:1/24:1)","titlePadding":17}},"x2":{"datum":2}}},
    {"mark":{"type":"tick","orient":"vertical","size":7,"thickness":1.5,"color":"#555"},"encoding":{"x":{"datum":1,"type":"quantitative","scale":{"domain":[0.393,2.357],"nice":false,"zero":false}}}},
    {"mark":{"type":"tick","orient":"vertical","size":7,"thickness":1.5,"color":"#555"},"encoding":{"x":{"datum":2,"type":"quantitative","scale":{"domain":[0.393,2.357],"nice":false,"zero":false}}}},
    {"mark":{"type":"text","baseline":"bottom","dy":-4,"fontSize":9,"color":"#333"},"encoding":{"x":{"datum":1.5,"type":"quantitative","scale":{"domain":[0.393,2.357],"nice":false,"zero":false}},"text":{"field":"p"}}}
   ]}
 ]},
{"width":119,"height":79,
 "title":{"text":"K","offset":-12,"dx":-50},
 "data":{"name":"pts"},
 "transform":[{"filter":"datum.panel === 'K'"},{"calculate":"datum.group === 'Affected' ? 1 : 2","as":"gi"}],
 "resolve":{"axis":{"x":"independent","y":"independent"}},
 "layer":[
  {"transform":[{"aggregate":[{"op":"mean","field":"value","as":"m"},{"op":"stderr","field":"value","as":"se"}],"groupby":["group","gi"]},{"calculate":"datum.m + datum.se","as":"hi"},{"calculate":"datum.m - datum.se","as":"lo"}],
   "encoding":{"x":{"field":"gi","type":"quantitative","scale":{"domain":[0.327,2.615],"nice":false,"zero":false},"axis":null}},
   "layer":[
    {"mark":{"type":"tick","orient":"horizontal","size":32,"thickness":2,"color":"#b3b3b3"},"encoding":{"y":{"field":"m","type":"quantitative","scale":{"type":"log","domain":[100000,100000000]},"axis":null}}},
    {"mark":{"type":"rule","color":"#444","strokeWidth":1.2},"encoding":{"y":{"field":"lo","type":"quantitative","scale":{"type":"log","domain":[100000,100000000]},"axis":null},"y2":{"field":"hi"}}},
    {"mark":{"type":"tick","orient":"horizontal","size":14,"thickness":1.2,"color":"#444"},"encoding":{"y":{"field":"hi","type":"quantitative","scale":{"type":"log","domain":[100000,100000000]},"axis":null}}},
    {"mark":{"type":"tick","orient":"horizontal","size":14,"thickness":1.2,"color":"#444"},"encoding":{"y":{"field":"lo","type":"quantitative","scale":{"type":"log","domain":[100000,100000000]},"axis":null}}}
   ]},
  {"transform":[{"window":[{"op":"row_number","as":"r"}],"groupby":["group","value"]},{"joinaggregate":[{"op":"count","as":"n"}],"groupby":["group","value"]},{"calculate":"datum.gi + (datum.r - (datum.n + 1) / 2) * 0.125","as":"xp"}],
   "mark":{"type":"point","filled":true,"opacity":1,"size":16,"color":"#111"},
   "encoding":{
    "x":{"field":"xp","type":"quantitative","scale":{"domain":[0.327,2.615],"nice":false,"zero":false},"axis":{"values":[1,2],"labelExpr":"datum.value === 1 ? 'Affected' : 'Controls'","title":null}},
    "y":{"field":"value","type":"quantitative","scale":{"type":"log","domain":[100000,100000000]},"axis":{"values":[100000,1000000,10000000,100000000],"labelExpr":"'10' + ['⁰','¹','²','³','⁴','⁵','⁶','⁷','⁸','⁹'][round(log(datum.value) / LN10)]","title":["SM(d18:1/26:2)","AUC"]}},
    "shape":{"field":"group","type":"nominal","scale":{"domain":["Affected","Control"],"range":["circle","square"]},"legend":null}}},
  {"data":{"name":"pv"},"transform":[{"filter":"datum.panel === 'K'"}],
   "encoding":{"y":{"datum":154881662,"type":"quantitative","scale":{"type":"log","domain":[100000,100000000]},"axis":null}},
   "layer":[
    {"mark":{"type":"rule","color":"#555","strokeWidth":2},"encoding":{"x":{"datum":1,"type":"quantitative","scale":{"domain":[0.327,2.615],"nice":false,"zero":false},"axis":{"orient":"top","title":"SM(d18:1/26:2)","titlePadding":28}},"x2":{"datum":2}}},
    {"mark":{"type":"tick","orient":"vertical","size":7,"thickness":1.5,"color":"#555"},"encoding":{"x":{"datum":1,"type":"quantitative","scale":{"domain":[0.327,2.615],"nice":false,"zero":false}}}},
    {"mark":{"type":"tick","orient":"vertical","size":7,"thickness":1.5,"color":"#555"},"encoding":{"x":{"datum":2,"type":"quantitative","scale":{"domain":[0.327,2.615],"nice":false,"zero":false}}}},
    {"mark":{"type":"text","baseline":"bottom","dy":-4,"fontSize":9,"color":"#333"},"encoding":{"x":{"datum":1.5,"type":"quantitative","scale":{"domain":[0.327,2.615],"nice":false,"zero":false}},"text":{"field":"p"}}}
   ]}
 ]},
{"width":110,"height":80,
 "title":{"text":"L","offset":-9,"dx":-26},
 "data":{"name":"pts"},
 "transform":[{"filter":"datum.panel === 'L'"},{"calculate":"datum.group === 'Affected' ? 1 : 2","as":"gi"}],
 "resolve":{"axis":{"x":"independent","y":"independent"}},
 "layer":[
  {"transform":[{"aggregate":[{"op":"mean","field":"value","as":"m"},{"op":"stderr","field":"value","as":"se"}],"groupby":["group","gi"]},{"calculate":"datum.m + datum.se","as":"hi"},{"calculate":"datum.m - datum.se","as":"lo"}],
   "encoding":{"x":{"field":"gi","type":"quantitative","scale":{"domain":[0.36,2.56],"nice":false,"zero":false},"axis":null}},
   "layer":[
    {"mark":{"type":"tick","orient":"horizontal","size":32,"thickness":2,"color":"#b3b3b3"},"encoding":{"y":{"field":"m","type":"quantitative","scale":{"type":"log","domain":[100000,100000000]},"axis":null}}},
    {"mark":{"type":"rule","color":"#444","strokeWidth":1.2},"encoding":{"y":{"field":"lo","type":"quantitative","scale":{"type":"log","domain":[100000,100000000]},"axis":null},"y2":{"field":"hi"}}},
    {"mark":{"type":"tick","orient":"horizontal","size":14,"thickness":1.2,"color":"#444"},"encoding":{"y":{"field":"hi","type":"quantitative","scale":{"type":"log","domain":[100000,100000000]},"axis":null}}},
    {"mark":{"type":"tick","orient":"horizontal","size":14,"thickness":1.2,"color":"#444"},"encoding":{"y":{"field":"lo","type":"quantitative","scale":{"type":"log","domain":[100000,100000000]},"axis":null}}}
   ]},
  {"transform":[{"window":[{"op":"row_number","as":"r"}],"groupby":["group","value"]},{"joinaggregate":[{"op":"count","as":"n"}],"groupby":["group","value"]},{"calculate":"datum.gi + (datum.r - (datum.n + 1) / 2) * 0.13","as":"xp"}],
   "mark":{"type":"point","filled":true,"opacity":1,"size":16,"color":"#111"},
   "encoding":{
    "x":{"field":"xp","type":"quantitative","scale":{"domain":[0.36,2.56],"nice":false,"zero":false},"axis":{"values":[1,2],"labelExpr":"datum.value === 1 ? 'Affected' : 'Control'","title":null}},
    "y":{"field":"value","type":"quantitative","scale":{"type":"log","domain":[100000,100000000]},"axis":{"values":[100000,1000000,10000000,100000000],"labelExpr":"'10' + ['⁰','¹','²','³','⁴','⁵','⁶','⁷','⁸','⁹'][round(log(datum.value) / LN10)]","title":"Guanosine (AUC)"}},
    "shape":{"field":"group","type":"nominal","scale":{"domain":["Affected","Control"],"range":["circle","square"]},"legend":null}}},
  {"data":{"name":"pv"},"transform":[{"filter":"datum.panel === 'L'"}],
   "encoding":{"y":{"datum":165958691,"type":"quantitative","scale":{"type":"log","domain":[100000,100000000]},"axis":null}},
   "layer":[
    {"mark":{"type":"rule","color":"#555","strokeWidth":2},"encoding":{"x":{"datum":1,"type":"quantitative","scale":{"domain":[0.36,2.56],"nice":false,"zero":false},"axis":{"orient":"top","title":"Guanosine","titlePadding":25}},"x2":{"datum":2}}},
    {"mark":{"type":"tick","orient":"vertical","size":7,"thickness":1.5,"color":"#555"},"encoding":{"x":{"datum":1,"type":"quantitative","scale":{"domain":[0.36,2.56],"nice":false,"zero":false}}}},
    {"mark":{"type":"tick","orient":"vertical","size":7,"thickness":1.5,"color":"#555"},"encoding":{"x":{"datum":2,"type":"quantitative","scale":{"domain":[0.36,2.56],"nice":false,"zero":false}}}},
    {"mark":{"type":"text","baseline":"bottom","dy":-4,"fontSize":9,"color":"#333"},"encoding":{"x":{"datum":1.5,"type":"quantitative","scale":{"domain":[0.36,2.56],"nice":false,"zero":false}},"text":{"field":"p"}}}
   ]}
 ]}
]},
{"spacing": 80, "bounds": "flush", "hconcat": [
{"width":121,"height":77,
 "title":{"text":"M","offset":-12,"dx":-35},
 "data":{"name":"pts"},
 "transform":[{"filter":"datum.panel === 'M'"},{"calculate":"datum.group === 'Affected' ? 1 : 2","as":"gi"}],
 "resolve":{"axis":{"x":"independent","y":"independent"}},
 "layer":[
  {"transform":[{"aggregate":[{"op":"mean","field":"value","as":"m"},{"op":"stderr","field":"value","as":"se"}],"groupby":["group","gi"]},{"calculate":"datum.m + datum.se","as":"hi"},{"calculate":"datum.m - datum.se","as":"lo"}],
   "encoding":{"x":{"field":"gi","type":"quantitative","scale":{"domain":[0.365,2.692],"nice":false,"zero":false},"axis":null}},
   "layer":[
    {"mark":{"type":"tick","orient":"horizontal","size":32,"thickness":2,"color":"#b3b3b3"},"encoding":{"y":{"field":"m","type":"quantitative","scale":{"type":"log","domain":[1000,1000000]},"axis":null}}},
    {"mark":{"type":"rule","color":"#444","strokeWidth":1.2},"encoding":{"y":{"field":"lo","type":"quantitative","scale":{"type":"log","domain":[1000,1000000]},"axis":null},"y2":{"field":"hi"}}},
    {"mark":{"type":"tick","orient":"horizontal","size":14,"thickness":1.2,"color":"#444"},"encoding":{"y":{"field":"hi","type":"quantitative","scale":{"type":"log","domain":[1000,1000000]},"axis":null}}},
    {"mark":{"type":"tick","orient":"horizontal","size":14,"thickness":1.2,"color":"#444"},"encoding":{"y":{"field":"lo","type":"quantitative","scale":{"type":"log","domain":[1000,1000000]},"axis":null}}}
   ]},
  {"transform":[{"window":[{"op":"row_number","as":"r"}],"groupby":["group","value"]},{"joinaggregate":[{"op":"count","as":"n"}],"groupby":["group","value"]},{"calculate":"datum.gi + (datum.r - (datum.n + 1) / 2) * 0.125","as":"xp"}],
   "mark":{"type":"point","filled":true,"opacity":1,"size":16,"color":"#111"},
   "encoding":{
    "x":{"field":"xp","type":"quantitative","scale":{"domain":[0.365,2.692],"nice":false,"zero":false},"axis":{"values":[1,2],"labelExpr":"datum.value === 1 ? 'Affected' : 'Control'","title":null}},
    "y":{"field":"value","type":"quantitative","scale":{"type":"log","domain":[1000,1000000]},"axis":{"values":[1000,10000,100000,1000000],"labelExpr":"'10' + ['⁰','¹','²','³','⁴','⁵','⁶','⁷','⁸','⁹'][round(log(datum.value) / LN10)]","title":"cAMP (AUC)"}},
    "shape":{"field":"group","type":"nominal","scale":{"domain":["Affected","Control"],"range":["circle","square"]},"legend":null}}},
  {"data":{"name":"pv"},"transform":[{"filter":"datum.panel === 'M'"}],
   "encoding":{"y":{"datum":1000000,"type":"quantitative","scale":{"type":"log","domain":[1000,1000000]},"axis":null}},
   "layer":[
    {"mark":{"type":"rule","color":"#555","strokeWidth":2},"encoding":{"x":{"datum":1,"type":"quantitative","scale":{"domain":[0.365,2.692],"nice":false,"zero":false},"axis":{"orient":"top","title":"cAMP","titlePadding":21}},"x2":{"datum":2}}},
    {"mark":{"type":"tick","orient":"vertical","size":7,"thickness":1.5,"color":"#555"},"encoding":{"x":{"datum":1,"type":"quantitative","scale":{"domain":[0.365,2.692],"nice":false,"zero":false}}}},
    {"mark":{"type":"tick","orient":"vertical","size":7,"thickness":1.5,"color":"#555"},"encoding":{"x":{"datum":2,"type":"quantitative","scale":{"domain":[0.365,2.692],"nice":false,"zero":false}}}},
    {"mark":{"type":"text","baseline":"bottom","dy":-4,"fontSize":9,"color":"#333"},"encoding":{"x":{"datum":1.5,"type":"quantitative","scale":{"domain":[0.365,2.692],"nice":false,"zero":false}},"text":{"field":"p"}}}
   ]}
 ]},
{"width":103,"height":77,
 "title":{"text":"N","offset":-9,"dx":-31},
 "data":{"name":"pts"},
 "transform":[{"filter":"datum.panel === 'N'"},{"calculate":"datum.group === 'Affected' ? 1 : 2","as":"gi"}],
 "resolve":{"axis":{"x":"independent","y":"independent"}},
 "layer":[
  {"transform":[{"aggregate":[{"op":"mean","field":"value","as":"m"},{"op":"stderr","field":"value","as":"se"}],"groupby":["group","gi"]},{"calculate":"datum.m + datum.se","as":"hi"},{"calculate":"datum.m - datum.se","as":"lo"}],
   "encoding":{"x":{"field":"gi","type":"quantitative","scale":{"domain":[0.5625,2.708],"nice":false,"zero":false},"axis":null}},
   "layer":[
    {"mark":{"type":"tick","orient":"horizontal","size":32,"thickness":2,"color":"#b3b3b3"},"encoding":{"y":{"field":"m","type":"quantitative","scale":{"type":"log","domain":[10000,100000000]},"axis":null}}},
    {"mark":{"type":"rule","color":"#444","strokeWidth":1.2},"encoding":{"y":{"field":"lo","type":"quantitative","scale":{"type":"log","domain":[10000,100000000]},"axis":null},"y2":{"field":"hi"}}},
    {"mark":{"type":"tick","orient":"horizontal","size":14,"thickness":1.2,"color":"#444"},"encoding":{"y":{"field":"hi","type":"quantitative","scale":{"type":"log","domain":[10000,100000000]},"axis":null}}},
    {"mark":{"type":"tick","orient":"horizontal","size":14,"thickness":1.2,"color":"#444"},"encoding":{"y":{"field":"lo","type":"quantitative","scale":{"type":"log","domain":[10000,100000000]},"axis":null}}}
   ]},
  {"transform":[{"window":[{"op":"row_number","as":"r"}],"groupby":["group","value"]},{"joinaggregate":[{"op":"count","as":"n"}],"groupby":["group","value"]},{"calculate":"datum.gi + (datum.r - (datum.n + 1) / 2) * 0.135","as":"xp"}],
   "mark":{"type":"point","filled":true,"opacity":1,"size":16,"color":"#111"},
   "encoding":{
    "x":{"field":"xp","type":"quantitative","scale":{"domain":[0.5625,2.708],"nice":false,"zero":false},"axis":{"values":[1,2],"labelExpr":"datum.value === 1 ? 'Affected' : 'Control'","title":null}},
    "y":{"field":"value","type":"quantitative","scale":{"type":"log","domain":[10000,100000000]},"axis":{"values":[10000,100000,1000000,10000000,100000000],"labelExpr":"'10' + ['⁰','¹','²','³','⁴','⁵','⁶','⁷','⁸','⁹'][round(log(datum.value) / LN10)]","title":"AICAR (AUC)"}},
    "shape":{"field":"group","type":"nominal","scale":{"domain":["Affected","Control"],"range":["circle","square"]},"legend":null}}},
  {"data":{"name":"pv"},"transform":[{"filter":"datum.panel === 'N'"}],
   "encoding":{"y":{"datum":208929613,"type":"quantitative","scale":{"type":"log","domain":[10000,100000000]},"axis":null}},
   "layer":[
    {"mark":{"type":"rule","color":"#555","strokeWidth":2},"encoding":{"x":{"datum":1,"type":"quantitative","scale":{"domain":[0.5625,2.708],"nice":false,"zero":false},"axis":{"orient":"top","title":"AICAR","titlePadding":21}},"x2":{"datum":2}}},
    {"mark":{"type":"tick","orient":"vertical","size":7,"thickness":1.5,"color":"#555"},"encoding":{"x":{"datum":1,"type":"quantitative","scale":{"domain":[0.5625,2.708],"nice":false,"zero":false}}}},
    {"mark":{"type":"tick","orient":"vertical","size":7,"thickness":1.5,"color":"#555"},"encoding":{"x":{"datum":2,"type":"quantitative","scale":{"domain":[0.5625,2.708],"nice":false,"zero":false}}}},
    {"mark":{"type":"text","baseline":"bottom","dy":-4,"fontSize":9,"color":"#333"},"encoding":{"x":{"datum":1.5,"type":"quantitative","scale":{"domain":[0.5625,2.708],"nice":false,"zero":false}},"text":{"field":"p"}}}
   ]}
 ]},
{"width":113,"height":77,
 "title":{"text":"O","offset":-10,"dx":-58},
 "data":{"name":"pts"},
 "transform":[{"filter":"datum.panel === 'O'"},{"calculate":"datum.group === 'Affected' ? 1 : 2","as":"gi"}],
 "resolve":{"axis":{"x":"independent","y":"independent"}},
 "layer":[
  {"transform":[{"aggregate":[{"op":"mean","field":"value","as":"m"},{"op":"stderr","field":"value","as":"se"}],"groupby":["group","gi"]},{"calculate":"datum.m + datum.se","as":"hi"},{"calculate":"datum.m - datum.se","as":"lo"}],
   "encoding":{"x":{"field":"gi","type":"quantitative","scale":{"domain":[0.32,2.58],"nice":false,"zero":false},"axis":null}},
   "layer":[
    {"mark":{"type":"tick","orient":"horizontal","size":32,"thickness":2,"color":"#b3b3b3"},"encoding":{"y":{"field":"m","type":"quantitative","scale":{"type":"log","domain":[10000,100000000]},"axis":null}}},
    {"mark":{"type":"rule","color":"#444","strokeWidth":1.2},"encoding":{"y":{"field":"lo","type":"quantitative","scale":{"type":"log","domain":[10000,100000000]},"axis":null},"y2":{"field":"hi"}}},
    {"mark":{"type":"tick","orient":"horizontal","size":14,"thickness":1.2,"color":"#444"},"encoding":{"y":{"field":"hi","type":"quantitative","scale":{"type":"log","domain":[10000,100000000]},"axis":null}}},
    {"mark":{"type":"tick","orient":"horizontal","size":14,"thickness":1.2,"color":"#444"},"encoding":{"y":{"field":"lo","type":"quantitative","scale":{"type":"log","domain":[10000,100000000]},"axis":null}}}
   ]},
  {"transform":[{"window":[{"op":"row_number","as":"r"}],"groupby":["group","value"]},{"joinaggregate":[{"op":"count","as":"n"}],"groupby":["group","value"]},{"calculate":"datum.gi + (datum.r - (datum.n + 1) / 2) * 0.13","as":"xp"}],
   "mark":{"type":"point","filled":true,"opacity":1,"size":16,"color":"#111"},
   "encoding":{
    "x":{"field":"xp","type":"quantitative","scale":{"domain":[0.32,2.58],"nice":false,"zero":false},"axis":{"values":[1,2],"labelExpr":"datum.value === 1 ? 'Affected' : 'Control'","title":null}},
    "y":{"field":"value","type":"quantitative","scale":{"type":"log","domain":[10000,100000000]},"axis":{"values":[10000,100000,1000000,10000000,100000000],"labelExpr":"'10' + ['⁰','¹','²','³','⁴','⁵','⁶','⁷','⁸','⁹'][round(log(datum.value) / LN10)]","title":"ATP (AUC)","titlePadding":21}},
    "shape":{"field":"group","type":"nominal","scale":{"domain":["Affected","Control"],"range":["circle","square"]},"legend":null}}},
  {"data":{"name":"pv"},"transform":[{"filter":"datum.panel === 'O'"}],
   "encoding":{"y":{"datum":112201845,"type":"quantitative","scale":{"type":"log","domain":[10000,100000000]},"axis":null}},
   "layer":[
    {"mark":{"type":"rule","color":"#555","strokeWidth":2},"encoding":{"x":{"datum":1,"type":"quantitative","scale":{"domain":[0.32,2.58],"nice":false,"zero":false},"axis":{"orient":"top","title":"ATP","titlePadding":21}},"x2":{"datum":2}}},
    {"mark":{"type":"tick","orient":"vertical","size":7,"thickness":1.5,"color":"#555"},"encoding":{"x":{"datum":1,"type":"quantitative","scale":{"domain":[0.32,2.58],"nice":false,"zero":false}}}},
    {"mark":{"type":"tick","orient":"vertical","size":7,"thickness":1.5,"color":"#555"},"encoding":{"x":{"datum":2,"type":"quantitative","scale":{"domain":[0.32,2.58],"nice":false,"zero":false}}}},
    {"mark":{"type":"text","baseline":"bottom","dy":-4,"fontSize":9,"color":"#333"},"encoding":{"x":{"datum":1.5,"type":"quantitative","scale":{"domain":[0.32,2.58],"nice":false,"zero":false}},"text":{"field":"p"}}}
   ]}
 ]},
{"width":105,"height":77,
 "title":{"text":"P","offset":-6,"dx":-51},
 "data":{"name":"pts"},
 "transform":[{"filter":"datum.panel === 'P'"},{"calculate":"datum.group === 'Affected' ? 1 : 2","as":"gi"}],
 "resolve":{"axis":{"x":"independent","y":"independent"}},
 "layer":[
  {"transform":[{"aggregate":[{"op":"mean","field":"value","as":"m"},{"op":"stderr","field":"value","as":"se"}],"groupby":["group","gi"]},{"calculate":"datum.m + datum.se","as":"hi"},{"calculate":"datum.m - datum.se","as":"lo"}],
   "encoding":{"x":{"field":"gi","type":"quantitative","scale":{"domain":[0.46,2.56],"nice":false,"zero":false},"axis":null}},
   "layer":[
    {"mark":{"type":"tick","orient":"horizontal","size":32,"thickness":2,"color":"#b3b3b3"},"encoding":{"y":{"field":"m","type":"quantitative","scale":{"type":"log","domain":[100,1000000]},"axis":null}}},
    {"mark":{"type":"rule","color":"#444","strokeWidth":1.2},"encoding":{"y":{"field":"lo","type":"quantitative","scale":{"type":"log","domain":[100,1000000]},"axis":null},"y2":{"field":"hi"}}},
    {"mark":{"type":"tick","orient":"horizontal","size":14,"thickness":1.2,"color":"#444"},"encoding":{"y":{"field":"hi","type":"quantitative","scale":{"type":"log","domain":[100,1000000]},"axis":null}}},
    {"mark":{"type":"tick","orient":"horizontal","size":14,"thickness":1.2,"color":"#444"},"encoding":{"y":{"field":"lo","type":"quantitative","scale":{"type":"log","domain":[100,1000000]},"axis":null}}}
   ]},
  {"transform":[{"window":[{"op":"row_number","as":"r"}],"groupby":["group","value"]},{"joinaggregate":[{"op":"count","as":"n"}],"groupby":["group","value"]},{"calculate":"datum.gi + (datum.r - (datum.n + 1) / 2) * 0.13","as":"xp"}],
   "mark":{"type":"point","filled":true,"opacity":1,"size":16,"color":"#111"},
   "encoding":{
    "x":{"field":"xp","type":"quantitative","scale":{"domain":[0.46,2.56],"nice":false,"zero":false},"axis":{"values":[1,2],"labelExpr":"datum.value === 1 ? 'Affected' : 'Control'","title":null}},
    "y":{"field":"value","type":"quantitative","scale":{"type":"log","domain":[100,1000000]},"axis":{"values":[100,1000,10000,100000,1000000],"labelExpr":"'10' + ['⁰','¹','²','³','⁴','⁵','⁶','⁷','⁸','⁹'][round(log(datum.value) / LN10)]","title":"5-mTHF (AUC)","titlePadding":18}},
    "shape":{"field":"group","type":"nominal","scale":{"domain":["Affected","Control"],"range":["circle","square"]},"legend":null}}},
  {"data":{"name":"pv"},"transform":[{"filter":"datum.panel === 'P'"}],
   "encoding":{"y":{"datum":1862087,"type":"quantitative","scale":{"type":"log","domain":[100,1000000]},"axis":null}},
   "layer":[
    {"mark":{"type":"rule","color":"#555","strokeWidth":2},"encoding":{"x":{"datum":1,"type":"quantitative","scale":{"domain":[0.46,2.56],"nice":false,"zero":false},"axis":{"orient":"top","title":"5-mTHF","titlePadding":20}},"x2":{"datum":2}}},
    {"mark":{"type":"tick","orient":"vertical","size":7,"thickness":1.5,"color":"#555"},"encoding":{"x":{"datum":1,"type":"quantitative","scale":{"domain":[0.46,2.56],"nice":false,"zero":false}}}},
    {"mark":{"type":"tick","orient":"vertical","size":7,"thickness":1.5,"color":"#555"},"encoding":{"x":{"datum":2,"type":"quantitative","scale":{"domain":[0.46,2.56],"nice":false,"zero":false}}}},
    {"mark":{"type":"text","baseline":"bottom","dy":-4,"fontSize":9,"color":"#333"},"encoding":{"x":{"datum":1.5,"type":"quantitative","scale":{"domain":[0.46,2.56],"nice":false,"zero":false}},"text":{"field":"p"}}}
   ]}
 ]}
]}
]}
]}
]
}
